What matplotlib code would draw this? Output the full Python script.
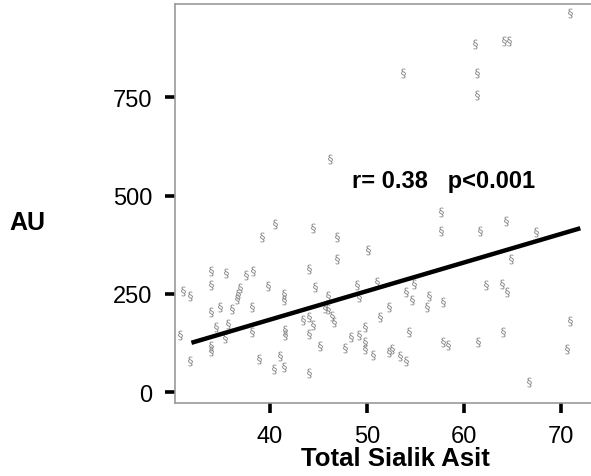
import matplotlib

matplotlib.use("Agg")
import matplotlib.pyplot as plt

matplotlib.rcParams["font.family"] = ["Liberation Sans", "DejaVu Sans"]

# Total Sialik Asit (x) vs AU (y)
sialic = [
    70.9, 64.1, 64.6, 61.1, 61.3, 61.3, 53.7, 46.2,
    40.5, 39.2, 33.9, 35.5, 37.5, 38.3, 33.9, 36.9, 36.7, 36.6, 39.8, 41.4,
    41.4, 31.0, 31.8, 33.9, 34.8, 36.1, 38.1, 34.4, 35.7, 30.7, 35.4, 38.1,
    41.5, 41.5, 33.9, 33.9, 31.8, 38.9, 41.0, 40.4, 41.4,
    44.4, 46.9, 50.1, 46.9, 44.0, 44.6, 49.0, 51.0, 46.0, 49.2, 45.7, 46.0,
    43.4, 44.0, 44.4, 46.4, 46.6, 44.0, 45.2, 47.7, 48.4, 49.2, 49.8, 49.8,
    49.8, 50.6, 51.3, 52.3, 52.3, 52.6, 53.4, 54.0, 54.0, 54.6, 54.9, 54.3,
    56.2, 56.4, 44.0,
    57.6, 57.6, 61.7, 64.3, 67.4, 64.8, 62.3, 63.9, 64.4, 57.8, 57.8, 58.4,
    61.4, 64.0, 70.9, 70.6, 66.7,
]
au = [
    963, 892, 892, 885, 811, 755, 811, 593,
    428, 394, 309, 303, 298, 309, 273, 264, 250, 237, 269, 250,
    235, 258, 244, 204, 216, 212, 216, 167, 174, 146, 138, 154,
    159, 146, 119, 106, 81, 85, 93, 60, 64,
    417, 396, 362, 339, 313, 267, 273, 280, 246, 242, 214, 212,
    185, 191, 171, 193, 180, 148, 119, 112, 140, 146, 165, 127,
    109, 95, 191, 216, 102, 110, 93, 81, 254, 235, 275, 153,
    216, 244, 49,
    459, 411, 411, 436, 407, 339, 273, 275, 256, 229, 129, 121,
    127, 153, 182, 109, 26,
]

# regression line end points
fit_x = [31.9, 72.0]
fit_y = [126, 417]

x_ticks = [40, 50, 60, 70]
y_ticks = [0, 250, 500, 750]

fig = plt.figure(figsize=(5.91, 4.77), dpi=100)
ax = fig.add_axes([0.296, 0.153, 0.704, 0.836])

ax.scatter(sialic, au, marker=r"$\S$", s=50, color="#8a8a8a", linewidths=0, zorder=2)
ax.plot(fit_x, fit_y, color="black", linewidth=3.2, solid_capstyle="butt", zorder=3)

ax.set_xlim(30.2, 73.1)
ax.set_ylim(-27, 986)
ax.set_xticks(x_ticks)
ax.set_yticks(y_ticks)

ax.spines["right"].set_visible(False)
for side in ["left", "bottom", "top"]:
    ax.spines[side].set_color("#9a9a9a")
    ax.spines[side].set_linewidth(1.2)

ax.tick_params(direction="out", length=7, width=2.6, color="black",
               labelsize=17, pad=9)

ax.set_xlabel("Total Sialik Asit", fontsize=18.5, fontweight="bold")
ax.xaxis.set_label_coords(0.53, -0.108)

ax.text(-0.354, 0.454, "AU", transform=ax.transAxes, fontsize=18,
        fontweight="bold", ha="center", va="center")

ax.text(48.5, 539, "r= 0.38   p<0.001", fontsize=17, fontweight="bold",
        ha="left", va="center")

fig.savefig("out.png", dpi=100)
